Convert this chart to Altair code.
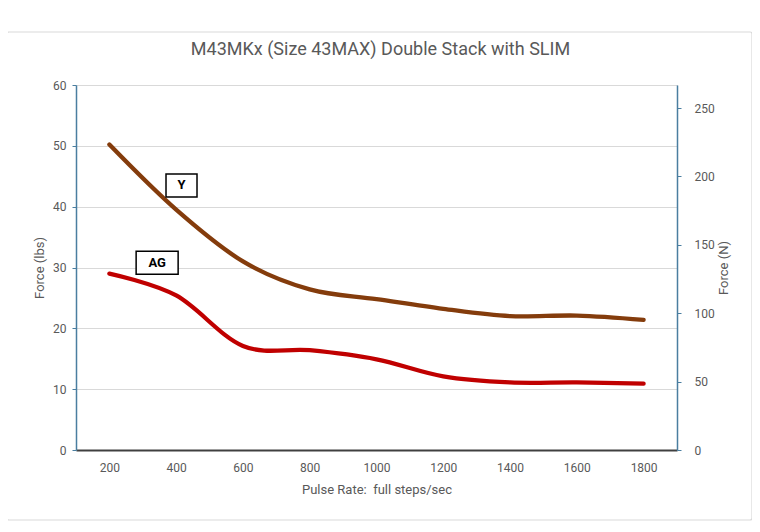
import altair as alt
import pandas as pd

rates = [200, 400, 600, 800, 1000, 1200, 1400, 1600, 1800]
y_force = [50.2, 39.5, 31.0, 26.4, 24.8, 23.2, 22.0, 22.1, 21.4]
ag_force = [29.0, 25.4, 17.1, 16.4, 14.9, 12.1, 11.1, 11.1, 10.9]
series_names = ["Y", "AG"]
series_colors = ["#843C0C", "#C00000"]

label_text = ["Y", "AG"]
label_x = [416, 343]
label_y = [43.5, 30.8]

x_ticks = rates
lbs_to_n = 4.44822

rows = []
for r, v in zip(rates, y_force):
    rows.append({"rate": r, "force": v, "series": "Y"})
for r, v in zip(rates, ag_force):
    rows.append({"rate": r, "force": v, "series": "AG"})
df = pd.DataFrame(rows)

lab = pd.DataFrame({"text": label_text, "x": label_x, "y": label_y})

FONT = "Roboto"
GRAY = "#595959"
BLUE = "#4A7EA0"

xscale = alt.Scale(domain=[100, 1900], nice=False, zero=False)
xaxis = alt.Axis(values=x_ticks, format="d", grid=False, ticks=False, domainColor="#404040",
                 domainWidth=2, labelColor=GRAY, labelFontSize=12, labelPadding=12,
                 title="Pulse Rate:\u00a0 full steps/sec", titleColor=GRAY, titleFontSize=13,
                 titleFontWeight="normal", titlePadding=10, labelFont=FONT, titleFont=FONT)
yscale = alt.Scale(domain=[0, 60], nice=False)

lines = alt.Chart(df).mark_line(strokeWidth=4.3, interpolate="cardinal", strokeCap="round").encode(
    x=alt.X("rate:Q", scale=xscale, axis=xaxis),
    y=alt.Y("force:Q", scale=yscale,
            axis=alt.Axis(values=[0, 10, 20, 30, 40, 50, 60], grid=True, gridColor="#D9D9D9",
                          domainColor=BLUE, domainWidth=1.5, tickColor=BLUE, tickSize=4,
                          labelColor=GRAY, labelFontSize=12, labelPadding=6, labelFont=FONT,
                          title="Force (lbs)", titleColor=GRAY, titleFontSize=13,
                          titleFontWeight="normal", titlePadding=6, titleFont=FONT)),
    color=alt.Color("series:N", scale=alt.Scale(domain=series_names, range=series_colors), legend=None),
)

box_y = alt.Chart(lab[lab.text == "Y"]).mark_rect(fill="white", stroke="black", strokeWidth=1.5,
                                                   width=31, height=23).encode(
    x=alt.X("x:Q", scale=xscale), y=alt.Y("y:Q", scale=yscale))
box_ag = alt.Chart(lab[lab.text == "AG"]).mark_rect(fill="white", stroke="black", strokeWidth=1.5,
                                                     width=42, height=23).encode(
    x=alt.X("x:Q", scale=xscale), y=alt.Y("y:Q", scale=yscale))

texts = alt.Chart(lab).mark_text(font=FONT, fontSize=13, fontWeight="bold", color="black").encode(
    x=alt.X("x:Q", scale=xscale), y=alt.Y("y:Q", scale=yscale), text="text:N")

left = alt.layer(lines, box_y, box_ag, texts)

right = alt.Chart(df).transform_calculate(newton=f"datum.force * {lbs_to_n}").mark_line(opacity=0).encode(
    x=alt.X("rate:Q", scale=xscale),
    y=alt.Y("newton:Q", scale=alt.Scale(domain=[0, 60 * lbs_to_n], nice=False),
            axis=alt.Axis(orient="right", values=[0, 50, 100, 150, 200, 250], grid=False,
                          domainColor=BLUE, domainWidth=1.5, tickColor=BLUE, tickSize=4,
                          labelColor=GRAY, labelFontSize=12, labelPadding=13, labelFont=FONT,
                          title="Force (N)", titleColor=GRAY, titleFontSize=13, titleAngle=270,
                          titleBaseline="middle", titleX=46, titleY=182.5, titleAlign="center",
                          titleFontWeight="normal", titleFont=FONT)),
)

card = alt.Chart(pd.DataFrame({"k": [0]})).mark_rect(
    fill=None, stroke="#D9D9D9", strokeWidth=1.2, cornerRadius=2
).encode(x=alt.value(-69), x2=alt.value(676), y=alt.value(-53), y2=alt.value(435))

chart = alt.layer(card, alt.layer(left, right).resolve_scale(y="independent")).properties(
    width=601, height=365,
    title=alt.TitleParams("M43MKx (Size 43MAX) Double Stack with SLIM", font=FONT, fontSize=18,
                          fontWeight="normal", color=GRAY, offset=-28, dx=4),
    autosize=alt.AutoSizeParams(type="none"),
    padding={"left": 68, "top": 77, "right": 75, "bottom": 74},
).configure_view(stroke=BLUE, strokeWidth=1.5).configure(background="white")

chart.save("out.html", embed_options={"renderer": "svg", "actions": False})
